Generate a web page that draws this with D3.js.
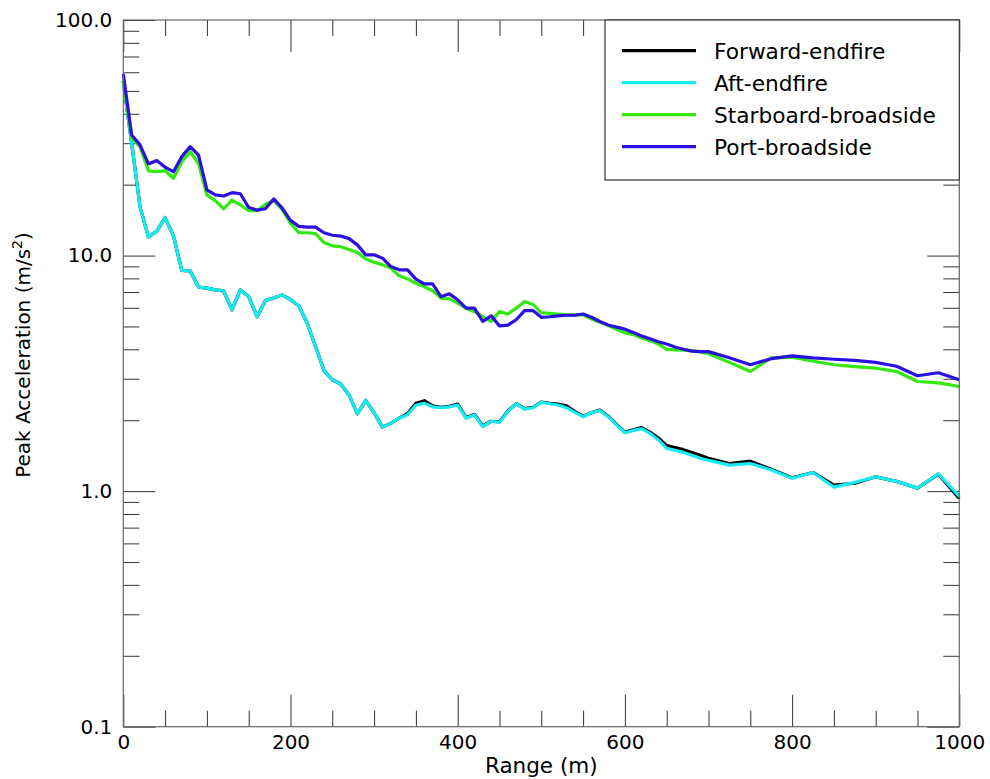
<!DOCTYPE html>
<html>
<head>
<meta charset="utf-8">
<script src="https://cdn.jsdelivr.net/npm/d3@7"></script>
<style>
  body { margin: 0; background: #fff; }
  svg text { font-family: "DejaVu Sans", sans-serif; fill: #000; }
</style>
</head>
<body>
<div id="chart"></div>
<script>
var width = 990;
var height = 779;

// range (m): 10 m steps to 700, then 25 m steps
var range = [0,10,20,30,40,50,60,70,80,90,100,110,120,130,140,150,160,170,180,190,
  200,210,220,230,240,250,260,270,280,290,300,310,320,330,340,350,360,370,380,390,
  400,410,420,430,440,450,460,470,480,490,500,510,520,530,540,550,560,570,580,590,
  600,610,620,630,640,650,660,670,680,690,700,725,750,775,800,825,850,875,900,925,950,975,1000];

var forwardEndfire = [55,30,16.1,12.0,12.7,14.5,12.1,8.65,8.6,7.35,7.27,7.15,7.08,5.88,7.15,6.7,5.5,6.44,6.6,6.81,
  6.5,6.11,5.16,4.11,3.25,2.97,2.85,2.56,2.13,2.43,2.15,1.87,1.94,2.04,2.13,2.36,2.42,2.3,2.27,2.29,
  2.34,2.05,2.12,1.89,1.98,1.97,2.19,2.35,2.24,2.27,2.39,2.36,2.34,2.3,2.18,2.08,2.15,2.21,2.08,1.92,
  1.78,1.82,1.86,1.78,1.68,1.56,1.53,1.5,1.46,1.42,1.38,1.31,1.34,1.24,1.14,1.2,1.06,1.08,1.15,1.1,1.03,1.18,0.93];

var aftEndfire = [55,30,16.1,12.0,12.7,14.5,12.1,8.65,8.6,7.35,7.27,7.15,7.08,5.88,7.15,6.7,5.5,6.44,6.6,6.81,
  6.5,6.11,5.16,4.11,3.25,2.97,2.85,2.56,2.13,2.43,2.15,1.87,1.94,2.04,2.11,2.32,2.36,2.28,2.26,2.28,
  2.32,2.04,2.11,1.88,1.98,1.96,2.18,2.35,2.23,2.26,2.38,2.35,2.32,2.26,2.16,2.07,2.15,2.2,2.07,1.91,
  1.77,1.81,1.84,1.76,1.65,1.52,1.49,1.46,1.42,1.38,1.35,1.29,1.31,1.23,1.135,1.2,1.04,1.09,1.15,1.1,1.03,1.185,0.95];

var starboardBroadside = [55,31.5,29.0,22.9,22.7,22.9,21.3,25.0,27.6,24.6,18.1,17.1,15.8,17.2,16.4,15.5,15.5,16.5,17.2,15.7,
  13.7,12.5,12.5,12.4,11.35,11.0,10.9,10.6,10.3,9.66,9.37,9.13,8.85,8.2,7.96,7.63,7.37,7.09,6.6,6.55,
  6.28,5.98,5.78,5.5,5.25,5.78,5.65,5.98,6.38,6.2,5.72,5.68,5.65,5.6,5.6,5.6,5.38,5.21,5.05,4.87,
  4.69,4.62,4.47,4.35,4.21,4.0,3.98,3.97,3.95,3.9,3.83,3.52,3.22,3.68,3.7,3.56,3.44,3.38,3.33,3.22,2.92,2.88,2.78];

var portBroadside = [59,32.5,29.5,24.5,25.3,23.7,22.7,26.3,29.0,26.7,19.0,18.1,17.9,18.5,18.3,16.0,15.6,15.8,17.4,15.9,
  14.1,13.3,13.2,13.2,12.5,12.2,12.1,11.8,11.1,10.07,10.07,9.75,8.98,8.7,8.7,7.94,7.58,7.58,6.69,6.88,
  6.49,5.98,5.98,5.25,5.55,5.03,5.07,5.34,5.84,5.84,5.47,5.5,5.55,5.58,5.58,5.65,5.47,5.25,5.07,4.97,
  4.87,4.71,4.56,4.43,4.31,4.21,4.09,4.0,3.93,3.91,3.91,3.68,3.44,3.65,3.75,3.68,3.63,3.59,3.52,3.39,3.09,3.18,2.97];

var seriesNames = ["Forward-endfire", "Aft-endfire", "Starboard-broadside", "Port-broadside"];
var seriesValues = [forwardEndfire, aftEndfire, starboardBroadside, portBroadside];
var seriesColors = ["#000000", "#14ecf2", "#33e80f", "#2a10e2"];

var xMajor = [0, 200, 400, 600, 800, 1000];
var xMinor = d3.range(50, 1000, 50).filter(d => d % 200 !== 0);
var yMajor = [0.1, 1, 10, 100];
var yMinor = [];
[0.1, 1, 10].forEach(function(p) {
  for (var k = 2; k <= 9; k++) yMinor.push(+(k * p).toFixed(2));
});

var margin = { left: 123.3, right: 30.7, top: 20, bottom: 52.3 };
var plotW = width - margin.left - margin.right;
var plotH = height - margin.top - margin.bottom;

var svg = d3.select("#chart")
  .append("svg")
  .attr("width", width)
  .attr("height", height);

var x = d3.scaleLinear().domain([0, 1000]).range([0, plotW]);
var y = d3.scaleLog().domain([0.1, 100]).range([plotH, 0]);

var g = svg.append("g")
  .attr("transform", "translate(" + margin.left + "," + margin.top + ")");

function styleAxis(sel) {
  sel.select(".domain").remove();
  sel.selectAll(".tick line").attr("stroke", "#333").attr("stroke-width", 1);
  sel.selectAll("text")
    .attr("font-family", "DejaVu Sans, sans-serif")
    .attr("font-size", 20)
    .attr("fill", "#000");
}

// bottom axis
g.append("g").attr("transform", "translate(0," + plotH + ")")
  .call(d3.axisBottom(x).tickValues(xMajor).tickFormat(d3.format("d")).tickSize(-32).tickPadding(8))
  .call(styleAxis);
g.append("g").attr("transform", "translate(0," + plotH + ")")
  .call(d3.axisBottom(x).tickValues(xMinor).tickFormat("").tickSize(-16))
  .call(styleAxis);
// top axis
g.append("g")
  .call(d3.axisTop(x).tickValues(xMajor).tickFormat("").tickSize(-32))
  .call(styleAxis);
g.append("g")
  .call(d3.axisTop(x).tickValues(xMinor).tickFormat("").tickSize(-16))
  .call(styleAxis);
// left axis
g.append("g")
  .call(d3.axisLeft(y).tickValues(yMajor).tickFormat(d3.format(".1f")).tickSize(-32).tickPadding(11))
  .call(styleAxis);
g.append("g")
  .call(d3.axisLeft(y).tickValues(yMinor).tickFormat("").tickSize(-16))
  .call(styleAxis);
// right axis
g.append("g").attr("transform", "translate(" + plotW + ",0)")
  .call(d3.axisRight(y).tickValues(yMajor).tickFormat("").tickSize(-32))
  .call(styleAxis);
g.append("g").attr("transform", "translate(" + plotW + ",0)")
  .call(d3.axisRight(y).tickValues(yMinor).tickFormat("").tickSize(-16))
  .call(styleAxis);

// lines
var line = d3.line()
  .x((d, i) => x(range[i]))
  .y(d => y(d));

g.append("g")
  .selectAll("path")
  .data(seriesValues)
  .enter()
  .append("path")
  .attr("d", line)
  .attr("fill", "none")
  .attr("stroke", (d, i) => seriesColors[i])
  .attr("stroke-width", 3.2)
  .attr("stroke-linejoin", "round");

// frame
g.append("rect")
  .attr("width", plotW)
  .attr("height", plotH)
  .attr("fill", "none")
  .attr("stroke", "#666")
  .attr("stroke-width", 1.2);

// legend
var legend = svg.append("g").attr("transform", "translate(605,20)");
legend.append("rect")
  .attr("width", 959.3 - 605)
  .attr("height", 160)
  .attr("fill", "#fff")
  .attr("stroke", "#333")
  .attr("stroke-width", 1.2);
var rows = legend.selectAll(".row")
  .data(seriesNames)
  .enter()
  .append("g")
  .attr("transform", (d, i) => "translate(0," + (30.7 + i * 32) + ")");
rows.append("line")
  .attr("x1", 17).attr("x2", 91)
  .attr("stroke", (d, i) => seriesColors[i])
  .attr("stroke-width", 3.2);
rows.append("text")
  .attr("x", 109)
  .attr("dy", "0.36em")
  .attr("font-size", 21.7)
  .text(d => d);

// axis labels
svg.append("text")
  .attr("x", margin.left + plotW / 2)
  .attr("y", 773)
  .attr("text-anchor", "middle")
  .attr("font-size", 21.5)
  .text("Range (m)");

var yl = svg.append("text")
  .attr("transform", "translate(30,355) rotate(-90)")
  .attr("text-anchor", "middle")
  .attr("font-size", 20);
yl.append("tspan").text("Peak Acceleration (m/s");
yl.append("tspan").attr("baseline-shift", "super").attr("font-size", 14).text("2");
yl.append("tspan").text(")");
</script>
</body>
</html>
